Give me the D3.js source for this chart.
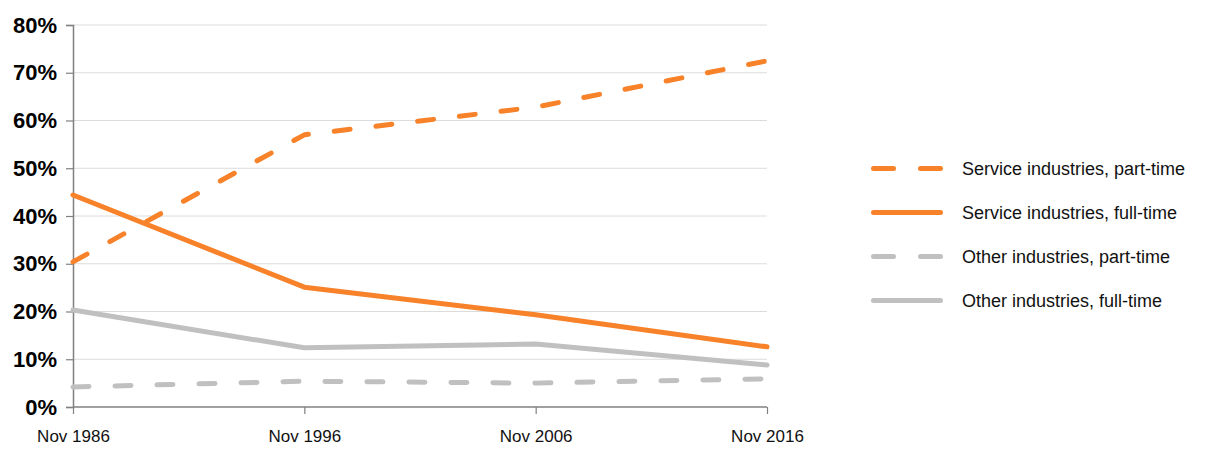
<!DOCTYPE html>
<html>
<head>
<meta charset="utf-8">
<script src="https://cdn.jsdelivr.net/npm/d3@7"></script>
<style>
  html, body { margin: 0; padding: 0; background: #fff; }
  svg { display: block; }
</style>
</head>
<body>
<svg id="chart" width="1230" height="450"></svg>
<script>
const categories = ["Nov 1986", "Nov 1996", "Nov 2006", "Nov 2016"];
const servicePartTime = [30.4, 57.0, 62.8, 72.5];
const serviceFullTime = [44.4, 25.1, 19.3, 12.6];
const otherPartTime = [4.2, 5.4, 5.0, 5.9];
const otherFullTime = [20.3, 12.4, 13.2, 8.8];
const yTicks = [0, 10, 20, 30, 40, 50, 60, 70, 80];
const seriesNames = ["Service industries, part-time", "Service industries, full-time", "Other industries, part-time", "Other industries, full-time"];

const ORANGE = "#F7822A";
const GREY = "#C0C0C0";

const series = [
  { name: seriesNames[0], values: servicePartTime, color: ORANGE, dashed: true },
  { name: seriesNames[1], values: serviceFullTime, color: ORANGE, dashed: false },
  { name: seriesNames[2], values: otherPartTime, color: GREY, dashed: true },
  { name: seriesNames[3], values: otherFullTime, color: GREY, dashed: false }
];

const svg = d3.select("#chart");
const plotLeft = 73, plotRight = 767, plotTop = 25, plotBottom = 407;

const x = d3.scalePoint().domain(categories).range([plotLeft, plotRight]);
const y = d3.scaleLinear().domain([0, 80]).range([plotBottom, plotTop]);

// gridlines
svg.append("g").selectAll("line").data(yTicks.filter(d => d > 0)).join("line")
  .attr("x1", plotLeft).attr("x2", plotRight)
  .attr("y1", d => y(d)).attr("y2", d => y(d))
  .attr("stroke", "#dcdcdc").attr("stroke-width", 1);

// y axis
const yAxis = svg.append("g").attr("transform", `translate(${plotLeft},0)`)
  .call(d3.axisLeft(y).tickValues(yTicks).tickFormat(d => d + "%").tickSize(7).tickPadding(9));
yAxis.select(".domain").attr("stroke", "#808080").attr("stroke-width", 1.5);
yAxis.selectAll(".tick line").attr("stroke", "#808080").attr("stroke-width", 1.2);
yAxis.selectAll(".tick text")
  .attr("font-family", "'Liberation Sans', Arial, sans-serif")
  .attr("font-weight", "bold").attr("font-size", 22).attr("fill", "#000");

// x axis
const xAxis = svg.append("g").attr("transform", `translate(0,${plotBottom})`)
  .call(d3.axisBottom(x).tickSize(7).tickPadding(16));
xAxis.select(".domain").attr("stroke", "#808080").attr("stroke-width", 1.5).attr("d", `M${plotLeft},0H${plotRight}`);
xAxis.selectAll(".tick line").attr("stroke", "#808080").attr("stroke-width", 1.2);
xAxis.selectAll(".tick text")
  .attr("font-family", "'Liberation Sans', Arial, sans-serif")
  .attr("font-size", 17).attr("fill", "#111");

// lines
const line = d3.line().x((d, i) => x(categories[i])).y(d => y(d));
svg.append("g").selectAll("path").data(series.slice().reverse()).join("path")
  .attr("d", d => line(d.values))
  .attr("fill", "none")
  .attr("stroke", d => d.color)
  .attr("stroke-width", 5)
  .attr("stroke-linecap", "round")
  .attr("stroke-linejoin", "round")
  .attr("stroke-dasharray", d => d.dashed ? "16,26" : null);

// legend
const legendRowY = d3.scalePoint().domain(seriesNames).range([168.5, 300.5]);
const lg = svg.append("g").selectAll("g").data(series).join("g")
  .attr("transform", d => `translate(0,${legendRowY(d.name)})`);
lg.append("line")
  .attr("x1", 873.5).attr("x2", 940.5).attr("y1", 0).attr("y2", 0)
  .attr("stroke", d => d.color).attr("stroke-width", 5)
  .attr("stroke-linecap", "round")
  .attr("stroke-dasharray", d => d.dashed ? "20,27" : null);
lg.append("text")
  .attr("x", 962).attr("y", 0).attr("dy", "0.35em")
  .attr("font-family", "'Liberation Sans', Arial, sans-serif")
  .attr("font-size", 18).attr("fill", "#111")
  .text(d => d.name);
</script>
</body>
</html>
